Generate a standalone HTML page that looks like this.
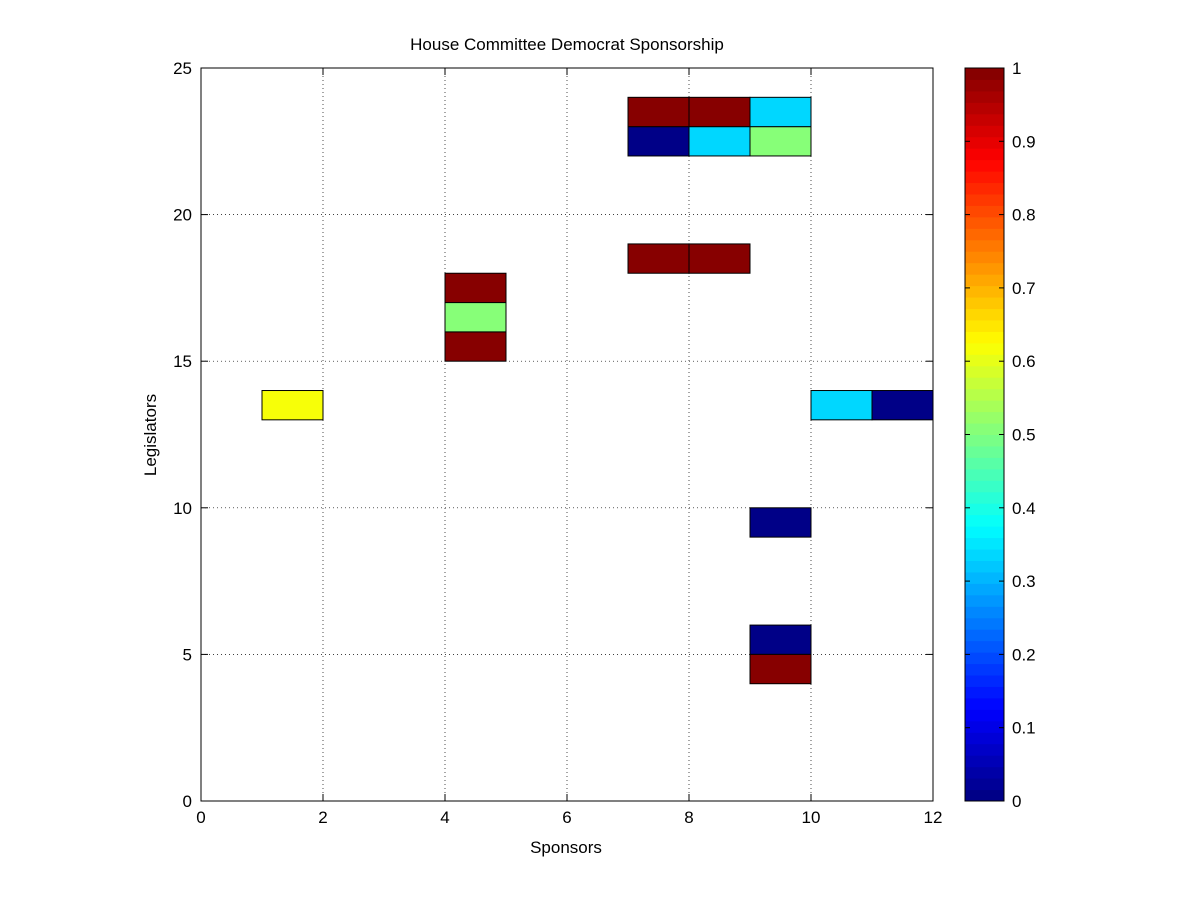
<!DOCTYPE html>
<html><head><meta charset="utf-8"><style>
body{margin:0;background:#fff;}
svg text{font-family:"Liberation Sans",Arial,sans-serif;}
</style></head><body>
<svg id="chart" width="1200" height="900" xmlns="http://www.w3.org/2000/svg">
<rect width="1200" height="900" fill="#fff"/>
<g id="grid"></g>
<g id="cells"></g>
<g id="axes"></g>
<g id="cbar"></g>
<text x="567" y="50" font-size="17" text-anchor="middle">House Committee Democrat Sponsorship</text>
<text x="566" y="853" font-size="17" text-anchor="middle">Sponsors</text>
<text transform="translate(156,435) rotate(-90)" font-size="17" text-anchor="middle">Legislators</text>
</svg>
<script>
const xTicks=[0,2,4,6,8,10,12];
const yTicks=[0,5,10,15,20,25];
const cbTicks=[0,0.1,0.2,0.3,0.4,0.5,0.6,0.7,0.8,0.9,1];
const cellX=[1,4,4,4,7,8,7,8,9,7,8,9,10,11,9,9,9];
const cellY=[13,15,16,17,18,18,22,22,22,23,23,23,13,13,9,5,4];
const cellV=[0.62,1,0.5,1,1,1,0,0.34,0.5,1,1,0.34,0.34,0,0,0,1];
const L=201,R=933,T=68,B=801;
const xs=v=>L+(v-0)/12*(R-L);
const ys=v=>B-(v-0)/25*(B-T);
const NS="http://www.w3.org/2000/svg";
function mk(tag,attrs,parent){const e=document.createElementNS(NS,tag);for(const k in attrs)e.setAttribute(k,attrs[k]);parent.appendChild(e);return e;}
function jet(v){const i=Math.min(63,Math.floor(v*64));const t=(i+0.5)/64;
 const c=x=>Math.round(255*Math.max(0,Math.min(1,1.5-Math.abs(x))));
 return `rgb(${c(4*t-3)},${c(4*t-2)},${c(4*t-1)})`;}
const grid=document.getElementById('grid'),cells=document.getElementById('cells'),axes=document.getElementById('axes'),cb=document.getElementById('cbar');
xTicks.forEach(t=>{if(t>0&&t<12){const l=mk('line',{x1:xs(t),x2:xs(t),y1:T,y2:B,stroke:'#000','stroke-width':0.7,'stroke-dasharray':'1,3'},grid);
}});
yTicks.forEach(t=>{if(t>0&&t<25){const l=mk('line',{x1:L,x2:R,y1:ys(t),y2:ys(t),stroke:'#000','stroke-width':0.7,'stroke-dasharray':'1,3'},grid);
}});
cellX.forEach((x,i)=>{const r=mk('rect',{x:xs(x),y:ys(cellY[i]+1),width:xs(x+1)-xs(x),height:ys(cellY[i])-ys(cellY[i]+1),fill:jet(cellV[i]),stroke:'#000','stroke-width':1},cells);
});
const box=mk('rect',{x:L,y:T,width:R-L,height:B-T,fill:'none',stroke:'#000','stroke-width':1},axes);

xTicks.forEach(t=>{mk('line',{x1:xs(t),x2:xs(t),y1:B,y2:B-7,stroke:'#000'},axes);mk('line',{x1:xs(t),x2:xs(t),y1:T,y2:T+7,stroke:'#000'},axes);
const tx=mk('text',{x:xs(t),y:B+22,'font-size':17,'text-anchor':'middle'},axes);tx.textContent=t;
});
yTicks.forEach(t=>{mk('line',{x1:L,x2:L+7,y1:ys(t),y2:ys(t),stroke:'#000'},axes);mk('line',{x1:R,x2:R-7,y1:ys(t),y2:ys(t),stroke:'#000'},axes);
const tx=mk('text',{x:L-9,y:ys(t)+6,'font-size':17,'text-anchor':'end'},axes);tx.textContent=t;
});
const CL=965,CR=1004;
for(let i=0;i<64;i++){const y1=B-(i+1)/64*(B-T),y0=B-i/64*(B-T);
const r=mk('rect',{x:CL,y:y1,width:CR-CL,height:y0-y1+0.5,fill:jet((i+0.5)/64)},cb);
}
const cbox=mk('rect',{x:CL,y:T,width:CR-CL,height:B-T,fill:'none',stroke:'#000'},cb);

const cy=v=>B-v*(B-T);
cbTicks.forEach(t=>{mk('line',{x1:CL,x2:CL+5,y1:cy(t),y2:cy(t),stroke:'#000'},cb);mk('line',{x1:CR,x2:CR-5,y1:cy(t),y2:cy(t),stroke:'#000'},cb);
const tx=mk('text',{x:CR+8,y:cy(t)+6,'font-size':17},cb);tx.textContent=String(t);
});
</script>
</body></html>
